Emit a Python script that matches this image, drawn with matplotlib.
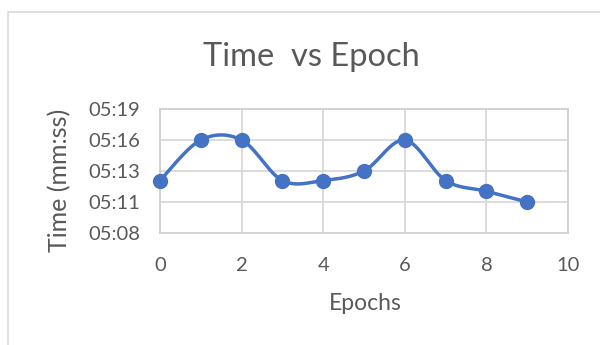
import numpy as np
import matplotlib
matplotlib.use("Agg")
import matplotlib.pyplot as plt
from matplotlib.patches import Rectangle

# Training time per epoch, in seconds
epochs = [0, 1, 2, 3, 4, 5, 6, 7, 8, 9]
time_seconds = [312.6, 316.0, 316.0, 312.6, 312.6, 313.4, 316.0, 312.6, 311.7, 310.8]

x_ticks = [0, 2, 4, 6, 8, 10]
y_ticks = [308.2, 310.8, 313.4, 316.0, 318.6]
y_tick_labels = ["05:08", "05:11", "05:13", "05:16", "05:19"]

title = "Time  vs Epoch"
x_label = "Epochs"
y_label = "Time (mm:ss)"

BLUE = "#4472C4"
TEXT = "#595959"
GRID = "#D9D9D9"

plt.rcParams["font.family"] = ["Lato", "DejaVu Sans"]


def smooth_curve(xs, ys, steps=30):
    """Cardinal (Catmull-Rom) Bezier smoothing through every point."""
    xs = np.asarray(xs, float)
    ys = np.asarray(ys, float)
    n = len(xs)
    out_x, out_y = [], []
    t = np.linspace(0, 1, steps)
    for i in range(n - 1):
        p0 = np.array([xs[max(i - 1, 0)], ys[max(i - 1, 0)]])
        p1 = np.array([xs[i], ys[i]])
        p2 = np.array([xs[i + 1], ys[i + 1]])
        p3 = np.array([xs[min(i + 2, n - 1)], ys[min(i + 2, n - 1)]])
        c1 = p1 + (p2 - p0) / 6.0
        c2 = p2 - (p3 - p1) / 6.0
        b = ((1 - t) ** 3)[:, None] * p1 + (3 * (1 - t) ** 2 * t)[:, None] * c1 \
            + (3 * (1 - t) * t ** 2)[:, None] * c2 + (t ** 3)[:, None] * p2
        out_x.extend(b[:, 0])
        out_y.extend(b[:, 1])
    return np.array(out_x), np.array(out_y)


fig = plt.figure(figsize=(6.0, 3.45), dpi=100)
fig.patch.set_facecolor("white")

# chart-area frame
fig.patches.append(Rectangle((8 / 600, -0.1), 1.0, 1 - 12 / 345 + 0.1,
                             transform=fig.transFigure, fill=False,
                             edgecolor="#D9D9D9", linewidth=1.2))

ax = fig.add_axes([160 / 600, 1 - 233 / 345, 408 / 600, 124 / 345])
ax.set_xlim(0, 10)
ax.set_ylim(y_ticks[0], y_ticks[-1])

sx, sy = smooth_curve(epochs, time_seconds)
ax.plot(sx, sy, color=BLUE, linewidth=2.5, solid_capstyle="round", zorder=3)
ax.plot(epochs, time_seconds, linestyle="none", marker="o", markersize=10,
        color=BLUE, zorder=4, clip_on=False)

ax.set_xticks(x_ticks)
ax.set_yticks(y_ticks)
ax.set_yticklabels(y_tick_labels)
ax.grid(True, color=GRID, linewidth=1.3)
ax.set_axisbelow(True)
for s in ax.spines.values():
    s.set_color("#D0D0D0")
    s.set_linewidth(1.3)
ax.tick_params(length=0, labelsize=14.5, colors=TEXT)
ax.tick_params(axis="y", pad=14)
ax.tick_params(axis="x", pad=17)

ax.set_xlabel(x_label, fontsize=16.5, color=TEXT)
ax.set_ylabel(y_label, fontsize=18, color=TEXT)
ax.xaxis.set_label_coords((365 - 160) / 408, -(303 - 233) / 124)
ax.xaxis.label.set_va("center")
ax.yaxis.set_label_coords(-(160 - 60) / 408, (233 - 180) / 124)
ax.yaxis.label.set_va("center")

fig.text(311 / 600, 1 - 57 / 345, title, fontsize=23.5, color=TEXT,
         ha="center", va="center")

fig.savefig("out.png", dpi=100, facecolor="white")
